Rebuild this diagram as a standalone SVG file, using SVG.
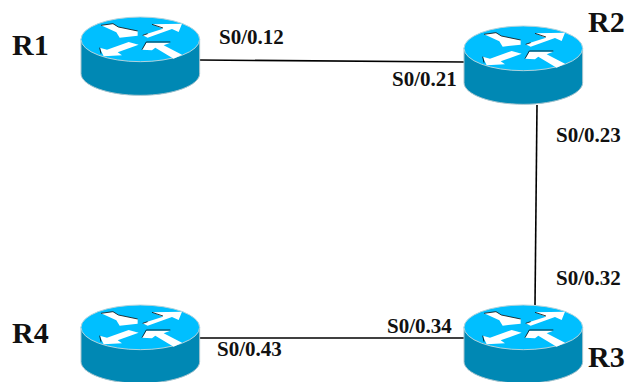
<svg xmlns="http://www.w3.org/2000/svg" width="628" height="382" viewBox="0 0 628 382">
<style>
text{font-family:"Liberation Serif","Times New Roman",serif;font-weight:700;fill:#111}
.port{font-size:21px}
.name{font-size:30px}
.link{stroke:#000;stroke-width:1.6;fill:none}
.side{fill:#0088b4;stroke:#a9c5cf;stroke-width:3}
.top{fill:#00bfff;stroke:#b4d3dc;stroke-width:3}
.arr{fill:#fff}
.edge{fill:none;stroke:#111;stroke-width:2.5}
</style>
<defs>
<g id="router" transform="scale(0.3333)">
<path class="side" d="M0 65V170C0 205 80 235 178 235S356 205 356 170V65Z"/>
<ellipse class="top" cx="178" cy="67" rx="178" ry="67"/>
<polygon class="arr" points="60,25 96,20 112,30 170,42 170,56 116,62 106,46"/>
<polygon class="arr" points="185,55 246,35 213,22 303,20 293,45 273,36 200,62"/>
<polygon class="arr" points="56,92 78,98 143,75 173,83 110,106 123,115 68,118"/>
<polygon class="arr" points="183,98 196,77 268,77 248,85 303,113 278,125 223,92 213,100"/>
<path class="edge" d="M60 25L96 20L112 30L170 42M213 22L246 33M185 55L200 50M56 92L60 110M196 75H268M183 98L196 75"/>
</g>
</defs>
<g id="connectors">
<line class="link" x1="199" y1="60" x2="464" y2="62"/>
<line class="link" x1="537" y1="105" x2="535" y2="305"/>
<line class="link" x1="199" y1="338" x2="464" y2="338"/>
</g>
<g id="R1"><use href="#router" transform="translate(81,17)"/><text class="name" x="12" y="55">R1</text><text class="port" x="219" y="44">S0/0.12</text></g>
<g id="R2"><use href="#router" transform="translate(464,26)"/><text class="name" x="588" y="32">R2</text><text class="port" x="392" y="86">S0/0.21</text><text class="port" x="556" y="142">S0/0.23</text></g>
<g id="R3"><use href="#router" transform="translate(464,305)"/><text class="name" x="588" y="367">R3</text><text class="port" x="556" y="285">S0/0.32</text><text class="port" x="387" y="333">S0/0.34</text></g>
<g id="R4"><use href="#router" transform="translate(81,305)"/><text class="name" x="12" y="343">R4</text><text class="port" x="217" y="356">S0/0.43</text></g>
</svg>
